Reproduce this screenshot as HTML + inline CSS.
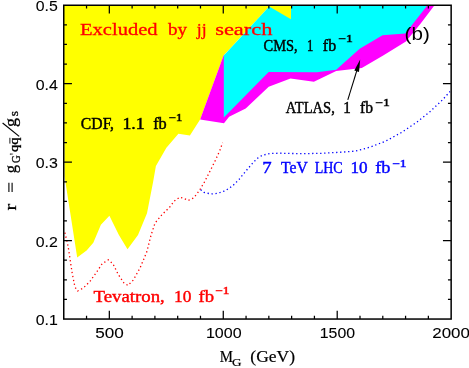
<!DOCTYPE html>
<html><head><meta charset="utf-8">
<style>
html,body{margin:0;padding:0;background:#fff;}
body{width:469px;height:368px;overflow:hidden;position:relative;}
svg{position:absolute;left:0;top:0;will-change:transform;}
text{font-family:"Liberation Serif",serif;}
</style></head><body>
<svg width="469" height="368" viewBox="0 0 469 368">
<rect width="469" height="368" fill="#fff"/>
<!-- yellow CDF -->
<polygon fill="#ffff00" points="64,5 291,5 291,19.2 269.2,6.5 223.6,55.6 200.1,119.4 189.9,135.5 178.4,133.8 166.4,147.8 155.9,165.9 153.1,182.1 147,213.3 138,235 127.5,249.2 118.9,235 109.4,215.8 100.9,224.8 93.3,242.7 86.6,250.4 77.2,257.6 64.5,176"/>
<!-- magenta ATLAS -->
<polygon fill="#ff00ff" points="223.6,55.6 200.1,119.4 224,123.2 229.1,116.8 245.7,108.6 268.7,86.8 290.5,78.4 313.9,81.8 336.2,71 361.8,68 383.6,55.2 405.9,41.6 420.3,24 434.7,5 427.7,5 300,5"/>
<!-- cyan CMS -->
<polygon fill="#00ffff" points="223.8,55.6 223.8,117.5 268.7,72 317,72.2 336.2,69.8 359.7,48.8 382.5,35.3 405.3,33.6 427.7,5 269.2,5 269.2,6.5"/>
<polygon fill="#ffff00" points="269.2,5 291,5 291,19.2 269.2,6.5"/>
<!-- dotted curves -->
<polyline fill="none" stroke="#ff0000" stroke-width="1.3" stroke-dasharray="1.3 2.7" points="64.9,232.6 68.1,246.2 72.2,273.3 74.9,286.9 77.6,291 83.1,288.2 89.9,281.5 96.7,272 102.1,263.8 108.3,259.8 112.9,263.8 118.4,274.7 123.8,282.8 127.9,285.5 133.3,280.1 140.1,267.9 146.9,251.6 151,235.3 155,223.1 161.8,214.9 170,206.8 174.2,201.1 179.8,197.2 184,198.5 188.3,200.4 193.8,197.8 199.6,190.3 204.9,181.2 210.3,170.5 215.6,159.9 219.9,150.3 222.6,142.8"/>
<polyline fill="none" stroke="#0000ff" stroke-width="1.3" stroke-dasharray="1.3 2.7" points="200.7,189.7 203.9,192.5 211.3,194 217.7,193.3 225.2,190.8 232.6,185.9 239,179.5 245.4,171.6 251.8,164.1 257.2,158.4 262.5,155.2 270,153.5 279.6,153.2 301.3,153.7 322.6,153.3 344,152 355.4,151.1 370.7,147 386.1,140.9 401.4,132.5 416.8,122.2 429.6,112 442.4,100 450,91.5"/>
<!-- frame -->
<rect x="63.75" y="5.25" width="387.40" height="313.80" fill="none" stroke="#000" stroke-width="1.5"/>
<g stroke="#000" stroke-width="1.25" fill="none">
<path d="M86.54,319.05v-3.2M86.54,5.25v3.2"/>
<path d="M109.33,319.05v-8.2M109.33,5.25v8.2"/>
<path d="M132.11,319.05v-3.2M132.11,5.25v3.2"/>
<path d="M154.90,319.05v-3.2M154.90,5.25v3.2"/>
<path d="M177.69,319.05v-3.2M177.69,5.25v3.2"/>
<path d="M200.48,319.05v-3.2M200.48,5.25v3.2"/>
<path d="M223.27,319.05v-8.2M223.27,5.25v8.2"/>
<path d="M246.06,319.05v-3.2M246.06,5.25v3.2"/>
<path d="M268.84,319.05v-3.2M268.84,5.25v3.2"/>
<path d="M291.63,319.05v-3.2M291.63,5.25v3.2"/>
<path d="M314.42,319.05v-3.2M314.42,5.25v3.2"/>
<path d="M337.21,319.05v-8.2M337.21,5.25v8.2"/>
<path d="M360.00,319.05v-3.2M360.00,5.25v3.2"/>
<path d="M382.79,319.05v-3.2M382.79,5.25v3.2"/>
<path d="M405.57,319.05v-3.2M405.57,5.25v3.2"/>
<path d="M428.36,319.05v-3.2M428.36,5.25v3.2"/>
<path d="M63.75,24.86h3.2M451.15,24.86h-3.2"/>
<path d="M63.75,44.48h3.2M451.15,44.48h-3.2"/>
<path d="M63.75,64.09h3.2M451.15,64.09h-3.2"/>
<path d="M63.75,83.70h8.2M451.15,83.70h-8.2"/>
<path d="M63.75,103.31h3.2M451.15,103.31h-3.2"/>
<path d="M63.75,122.93h3.2M451.15,122.93h-3.2"/>
<path d="M63.75,142.54h3.2M451.15,142.54h-3.2"/>
<path d="M63.75,162.15h8.2M451.15,162.15h-8.2"/>
<path d="M63.75,181.76h3.2M451.15,181.76h-3.2"/>
<path d="M63.75,201.38h3.2M451.15,201.38h-3.2"/>
<path d="M63.75,220.99h3.2M451.15,220.99h-3.2"/>
<path d="M63.75,240.60h8.2M451.15,240.60h-8.2"/>
<path d="M63.75,260.21h3.2M451.15,260.21h-3.2"/>
<path d="M63.75,279.82h3.2M451.15,279.82h-3.2"/>
<path d="M63.75,299.44h3.2M451.15,299.44h-3.2"/>
</g>
<!-- arrow -->
<line x1="347.8" y1="99.9" x2="357" y2="70" stroke="#000" stroke-width="1.05"/>
<polygon fill="#000" points="360.2,59.6 354.3,70.6 359,72.1"/>
<!-- labels -->
<g opacity="0.999">
<text x="80.03" y="35.4" font-size="16.7" fill="#ff0000" stroke="#ff0000" stroke-width="0.3" textLength="77.59" lengthAdjust="spacingAndGlyphs">Excluded</text>
<text x="167.93" y="35.4" font-size="16.7" fill="#ff0000" stroke="#ff0000" stroke-width="0.3" textLength="19.09" lengthAdjust="spacingAndGlyphs">by</text>
<text x="196.82" y="35.4" font-size="16.7" fill="#ff0000" stroke="#ff0000" stroke-width="0.3" textLength="9.81" lengthAdjust="spacingAndGlyphs">jj</text>
<text x="215.21" y="35.4" font-size="16.7" fill="#ff0000" stroke="#ff0000" stroke-width="0.3" textLength="57.26" lengthAdjust="spacingAndGlyphs">search</text>
<text x="263.51" y="50.6" font-size="16" fill="#000" stroke="#000" stroke-width="0.45" textLength="34.12" lengthAdjust="spacingAndGlyphs">CMS,</text>
<text x="306.96" y="50.6" font-size="16" fill="#000" stroke="#000" stroke-width="0.45" textLength="6.30" lengthAdjust="spacingAndGlyphs">1</text>
<text x="322.83" y="50.6" font-size="16" fill="#000" stroke="#000" stroke-width="0.45" textLength="13.28" lengthAdjust="spacingAndGlyphs">fb</text>
<text x="338.37" y="42.4" font-size="9.5" fill="#000" stroke="#000" stroke-width="0.45" textLength="14.43" lengthAdjust="spacingAndGlyphs">−1</text>
<text x="285.85" y="113.0" font-size="16" fill="#000" stroke="#000" stroke-width="0.45" textLength="48.96" lengthAdjust="spacingAndGlyphs">ATLAS,</text>
<text x="343.23" y="113.0" font-size="16" fill="#000" stroke="#000" stroke-width="0.45" textLength="7.49" lengthAdjust="spacingAndGlyphs">1</text>
<text x="360.03" y="113.0" font-size="16" fill="#000" stroke="#000" stroke-width="0.45" textLength="12.96" lengthAdjust="spacingAndGlyphs">fb</text>
<text x="375.37" y="105.9" font-size="9.5" fill="#000" stroke="#000" stroke-width="0.45" textLength="14.43" lengthAdjust="spacingAndGlyphs">−1</text>
<text x="80.86" y="128.5" font-size="16" fill="#000" stroke="#000" stroke-width="0.45" textLength="33.18" lengthAdjust="spacingAndGlyphs">CDF,</text>
<text x="122.42" y="128.5" font-size="16" fill="#000" stroke="#000" stroke-width="0.45" textLength="22.32" lengthAdjust="spacingAndGlyphs">1.1</text>
<text x="153.19" y="128.5" font-size="16" fill="#000" stroke="#000" stroke-width="0.45" textLength="13.53" lengthAdjust="spacingAndGlyphs">fb</text>
<text x="168.73" y="120.9" font-size="9.5" fill="#000" stroke="#000" stroke-width="0.45" textLength="13.54" lengthAdjust="spacingAndGlyphs">−1</text>
<text x="262.32" y="173.2" font-size="16" fill="#0000ff" stroke="#0000ff" stroke-width="0.4" textLength="9.37" lengthAdjust="spacingAndGlyphs">7</text>
<text x="281.00" y="173.2" font-size="16" fill="#0000ff" stroke="#0000ff" stroke-width="0.4" textLength="26.69" lengthAdjust="spacingAndGlyphs">TeV</text>
<text x="314.64" y="173.2" font-size="16" fill="#0000ff" stroke="#0000ff" stroke-width="0.4" textLength="27.96" lengthAdjust="spacingAndGlyphs">LHC</text>
<text x="350.55" y="173.2" font-size="16" fill="#0000ff" stroke="#0000ff" stroke-width="0.4" textLength="17.14" lengthAdjust="spacingAndGlyphs">10</text>
<text x="375.23" y="173.2" font-size="16" fill="#0000ff" stroke="#0000ff" stroke-width="0.4" textLength="15.24" lengthAdjust="spacingAndGlyphs">fb</text>
<text x="392.22" y="166.7" font-size="9.5" fill="#0000ff" stroke="#0000ff" stroke-width="0.4" textLength="14.37" lengthAdjust="spacingAndGlyphs">−1</text>
<text x="93.60" y="301.6" font-size="16" fill="#ff0000" stroke="#ff0000" stroke-width="0.4" textLength="71.21" lengthAdjust="spacingAndGlyphs">Tevatron,</text>
<text x="174.12" y="301.6" font-size="16" fill="#ff0000" stroke="#ff0000" stroke-width="0.4" textLength="17.38" lengthAdjust="spacingAndGlyphs">10</text>
<text x="198.43" y="301.6" font-size="16" fill="#ff0000" stroke="#ff0000" stroke-width="0.4" textLength="15.53" lengthAdjust="spacingAndGlyphs">fb</text>
<text x="215.23" y="294.0" font-size="9.5" fill="#ff0000" stroke="#ff0000" stroke-width="0.4" textLength="14.21" lengthAdjust="spacingAndGlyphs">−1</text>
<text x="219.77" y="362.0" font-size="16" fill="#000" stroke="#000" stroke-width="0.2" textLength="13.19" lengthAdjust="spacingAndGlyphs">M</text>
<text x="232.01" y="366.4" font-size="10.5" fill="#000" stroke="#000" stroke-width="0.2" textLength="9.48" lengthAdjust="spacingAndGlyphs">G</text>
<text x="250.36" y="362.0" font-size="16" fill="#000" stroke="#000" stroke-width="0.2" textLength="44.63" lengthAdjust="spacingAndGlyphs">(GeV)</text>
<text x="35.75" y="11.0" font-size="15" fill="#000" stroke="#000" stroke-width="0.1" style="font-family:'Liberation Sans',sans-serif" textLength="22.05" lengthAdjust="spacingAndGlyphs">0.5</text>
<text x="35.75" y="89.6" font-size="15" fill="#000" stroke="#000" stroke-width="0.1" style="font-family:'Liberation Sans',sans-serif" textLength="22.17" lengthAdjust="spacingAndGlyphs">0.4</text>
<text x="35.75" y="168.1" font-size="15" fill="#000" stroke="#000" stroke-width="0.1" style="font-family:'Liberation Sans',sans-serif" textLength="22.15" lengthAdjust="spacingAndGlyphs">0.3</text>
<text x="35.73" y="246.6" font-size="15" fill="#000" stroke="#000" stroke-width="0.1" style="font-family:'Liberation Sans',sans-serif" textLength="22.07" lengthAdjust="spacingAndGlyphs">0.2</text>
<text x="35.73" y="325.2" font-size="15" fill="#000" stroke="#000" stroke-width="0.1" style="font-family:'Liberation Sans',sans-serif" textLength="22.10" lengthAdjust="spacingAndGlyphs">0.1</text>
<text x="95.15" y="338.2" font-size="15" fill="#000" stroke="#000" stroke-width="0.1" style="font-family:'Liberation Sans',sans-serif" textLength="28.56" lengthAdjust="spacingAndGlyphs">500</text>
<text x="205.90" y="338.2" font-size="15" fill="#000" stroke="#000" stroke-width="0.1" style="font-family:'Liberation Sans',sans-serif" textLength="35.68" lengthAdjust="spacingAndGlyphs">1000</text>
<text x="319.79" y="338.2" font-size="15" fill="#000" stroke="#000" stroke-width="0.1" style="font-family:'Liberation Sans',sans-serif" textLength="35.29" lengthAdjust="spacingAndGlyphs">1500</text>
<text x="432.29" y="338.2" font-size="15" fill="#000" stroke="#000" stroke-width="0.1" style="font-family:'Liberation Sans',sans-serif" textLength="37.69" lengthAdjust="spacingAndGlyphs">2000</text>
<text x="404.62" y="40.3" font-size="18" fill="#000" style="font-family:'Liberation Sans',sans-serif" textLength="25.22" lengthAdjust="spacingAndGlyphs">(b)</text>
</g>
<g transform="translate(15.6,211) rotate(-90)" opacity="0.999">
<text x="0.59" y="0.0" font-size="17.5" fill="#000" stroke="#000" stroke-width="0.3" textLength="6.74" lengthAdjust="spacingAndGlyphs">r</text>
<text x="37.66" y="0.0" font-size="17.5" fill="#000" stroke="#000" stroke-width="0.3" textLength="8.25" lengthAdjust="spacingAndGlyphs">g</text>
<text x="48.07" y="3.9" font-size="12" fill="#000" stroke="#000" stroke-width="0.3" textLength="7.64" lengthAdjust="spacingAndGlyphs">G</text>
<text x="56.30" y="2.4" font-size="12" fill="#000" stroke="#000" stroke-width="0.3" textLength="1.33" lengthAdjust="spacingAndGlyphs">'</text>
<text x="59.06" y="2.4" font-size="12" fill="#000" stroke="#000" stroke-width="0.3" textLength="14.43" lengthAdjust="spacingAndGlyphs">qq</text>
<text x="83.99" y="0.0" font-size="17.5" fill="#000" stroke="#000" stroke-width="0.3" textLength="8.99" lengthAdjust="spacingAndGlyphs">g</text>
<text x="94.65" y="2.4" font-size="12" fill="#000" stroke="#000" stroke-width="0.3" textLength="5.20" lengthAdjust="spacingAndGlyphs">s</text>
<path d="M18.9,-6.7H28.2M18.9,-3.5H28.2" stroke="#000" stroke-width="1.1" fill="none"/>
<path d="M67.4,-5.7H73.2" stroke="#000" stroke-width="0.9" fill="none"/>
<path d="M74.6,3.6L88,-13" stroke="#000" stroke-width="1.2" fill="none"/>
</g>
</svg>
</body></html>
